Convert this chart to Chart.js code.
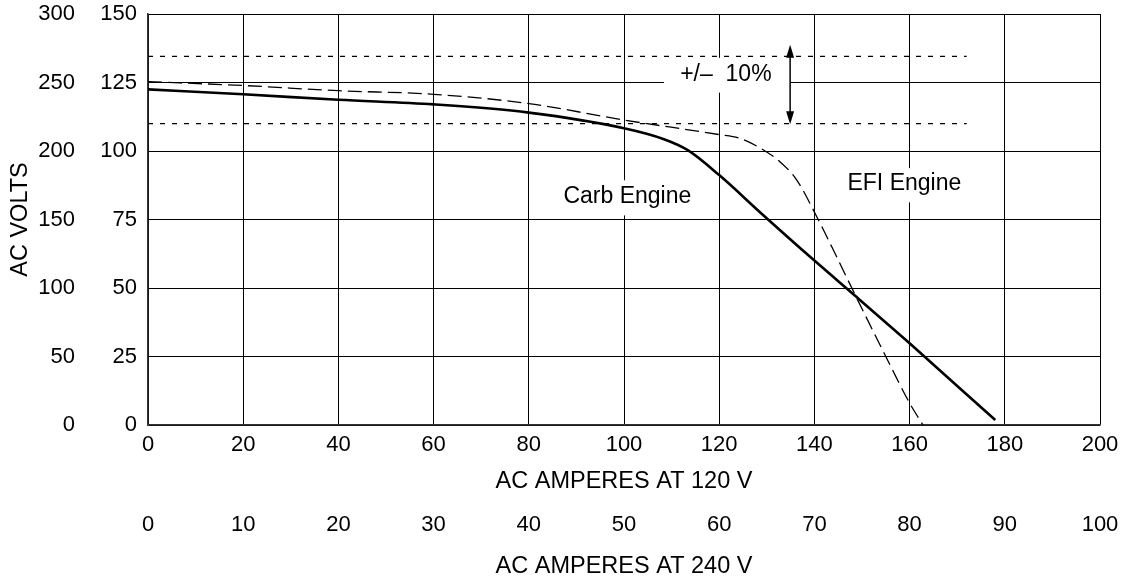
<!DOCTYPE html>
<html>
<head>
<meta charset="utf-8">
<script src="https://cdn.jsdelivr.net/npm/chart.js@4/dist/chart.umd.min.js"></script>
<style>
  html, body { margin: 0; padding: 0; background: #fff; }
  #wrap { width: 1129px; height: 579px; }
</style>
</head>
<body>
<div id="wrap"><canvas id="voltChart"></canvas></div>
<script>
// amps at 120 V vs AC volts
var carbAmps  = [0, 20, 40, 60, 80, 100, 108.4, 113.4, 120, 128.8, 140, 149, 160, 178];
var carbVolts = [122.5, 120.7, 118.7, 117, 114, 108.3, 104.3, 100.3, 91.2, 77.3, 60, 46.5, 29.8, 1.8];

var efiAmps  = [0, 20, 40, 60, 80, 100, 120, 124, 128.2, 132.8, 136.3, 140.5, 144.7, 148, 155, 160, 162.8];
var efiVolts = [125.3, 123.9, 122, 120.7, 117.3, 111.3, 106, 104.8, 101.5, 96, 89.4, 76, 61.3, 49.5, 25, 8, 0];

// +/- 10% band
var bandAmps  = [0, 172];
var bandHigh  = 134.5;
var bandLow   = 110;

var ampTicks120 = [0, 20, 40, 60, 80, 100, 120, 140, 160, 180, 200];
var ampTicks240 = [0, 10, 20, 30, 40, 50, 60, 70, 80, 90, 100];
var voltTicks   = [0, 25, 50, 75, 100, 125, 150];
var voltTicks2  = [0, 50, 100, 150, 200, 250, 300];

function pts(xs, ys) {
    return xs.map(function (v, i) { return { x: v, y: Array.isArray(ys) ? ys[i] : ys }; });
}

var FONT = 'Liberation Sans, Arial, Helvetica, sans-serif';

var notesPlugin = {
    id: 'notes',
    beforeDatasetsDraw: function (chart) {
        var ctx = chart.ctx, x = chart.scales.x, y = chart.scales.y;
        // white patches behind the labels (they break the grid)
        var boxes = [[108.4, 134.9, 134, 121.3], [87.2, 114.9, 89.3, 76.5], [144.6, 172.1, 93.75, 81.25]];
        ctx.save();
        ctx.fillStyle = '#fff';
        boxes.forEach(function (b) {
            var l = x.getPixelForValue(b[0]), r = x.getPixelForValue(b[1]);
            var t = y.getPixelForValue(b[2]), bt = y.getPixelForValue(b[3]);
            ctx.fillRect(l, t, r - l, bt - t);
        });
        ctx.fillStyle = '#000';
        ctx.font = '23px ' + FONT;
        ctx.textAlign = 'center';
        ctx.textBaseline = 'middle';
        ctx.fillText('+/\u2013  10%', x.getPixelForValue(121.4), y.getPixelForValue(127.8));
        ctx.fillText('Carb Engine', x.getPixelForValue(100.7), y.getPixelForValue(83.5));
        ctx.fillText('EFI Engine', x.getPixelForValue(158.9), y.getPixelForValue(88.2));
        ctx.restore();
    },
    afterDatasetsDraw: function (chart) {
        var ctx = chart.ctx, x = chart.scales.x, y = chart.scales.y;
        var ax = x.getPixelForValue(134.9);
        var top = y.getPixelForValue(138.8), bot = y.getPixelForValue(109.8);
        ctx.save();
        ctx.strokeStyle = '#000';
        ctx.fillStyle = '#000';
        ctx.lineWidth = 1.5;
        ctx.beginPath();
        ctx.moveTo(ax, top + 10);
        ctx.lineTo(ax, bot - 10);
        ctx.stroke();
        ctx.beginPath();
        ctx.moveTo(ax, top);
        ctx.lineTo(ax - 4, top + 13);
        ctx.lineTo(ax + 4, top + 13);
        ctx.closePath();
        ctx.fill();
        ctx.beginPath();
        ctx.moveTo(ax, bot);
        ctx.lineTo(ax - 4, bot - 13);
        ctx.lineTo(ax + 4, bot - 13);
        ctx.closePath();
        ctx.fill();
        ctx.restore();
    }
};

// fixed axis boxes so the plot sits where the sheet has it
function fixWidth(w) {
    return function (axis) { axis.width = w; axis.paddingTop = 0; axis.paddingBottom = 0; };
}
function fixHeight(h) {
    return function (axis) { axis.height = h; axis.paddingLeft = 0; axis.paddingRight = 0; };
}

var ctx = document.getElementById('voltChart').getContext('2d');
new Chart(ctx, {
    type: 'line',
    data: {
        datasets: [{
            label: 'Carb Engine',
            data: pts(carbAmps, carbVolts),
            borderColor: '#000',
            borderWidth: 2.6,
            cubicInterpolationMode: 'monotone',
            pointRadius: 0,
            fill: false
        }, {
            label: 'EFI Engine',
            data: pts(efiAmps, efiVolts),
            borderColor: '#000',
            borderWidth: 1.3,
            borderDash: [14, 6],
            cubicInterpolationMode: 'monotone',
            pointRadius: 0,
            fill: false
        }, {
            label: '+10%',
            data: pts(bandAmps, bandHigh),
            borderColor: '#000',
            borderWidth: 1.2,
            borderDash: [5, 7],
            pointRadius: 0,
            fill: false
        }, {
            label: '-10%',
            data: pts(bandAmps, bandLow),
            borderColor: '#000',
            borderWidth: 1.2,
            borderDash: [5, 7],
            pointRadius: 0,
            fill: false
        }]
    },
    options: {
        responsive: true,
        maintainAspectRatio: false,
        animation: false,
        layout: { padding: { top: 14, right: 29, left: 0, bottom: 0 } },
        plugins: { legend: { display: false }, tooltip: { enabled: false } },
        scales: {
            x: {
                type: 'linear',
                position: 'bottom',
                weight: 0,
                min: 0, max: 200,
                afterBuildTicks: function (axis) { axis.ticks = ampTicks120.map(function (v) { return { value: v }; }); },
                afterFit: fixHeight(79),
                grid: { color: '#000', lineWidth: 1, drawTicks: false },
                border: { color: '#333', width: 1.5 },
                ticks: { autoSkip: false, maxRotation: 0, padding: 7, color: '#000', font: { family: FONT, size: 22 } },
                title: { display: true, text: 'AC AMPERES AT 120 V', color: '#000', padding: { top: 0, bottom: 8 }, font: { family: FONT, size: 23.5 } }
            },
            x2: {
                type: 'linear',
                position: 'bottom',
                weight: 1,
                min: 0, max: 100,
                afterBuildTicks: function (axis) { axis.ticks = ampTicks240.map(function (v) { return { value: v }; }); },
                afterFit: fixHeight(75),
                grid: { display: false, drawTicks: false },
                border: { display: false },
                ticks: { autoSkip: false, maxRotation: 0, padding: 8, color: '#000', font: { family: FONT, size: 22 } },
                title: { display: true, text: 'AC AMPERES AT 240 V', color: '#000', padding: { top: 0, bottom: -2 }, font: { family: FONT, size: 23.5 } }
            },
            y: {
                type: 'linear',
                position: 'left',
                weight: 0,
                min: 0, max: 150,
                afterBuildTicks: function (axis) { axis.ticks = voltTicks.map(function (v) { return { value: v }; }); },
                afterFit: fixWidth(62),
                grid: { color: '#000', lineWidth: 1, drawTicks: false },
                border: { color: '#333', width: 1.5 },
                ticks: { autoSkip: false, padding: 11, color: '#000', font: { family: FONT, size: 22 } }
            },
            y2: {
                type: 'linear',
                position: 'left',
                weight: 1,
                min: 0, max: 300,
                afterBuildTicks: function (axis) { axis.ticks = voltTicks2.map(function (v) { return { value: v }; }); },
                afterFit: fixWidth(86),
                grid: { display: false, drawTicks: false },
                border: { display: false },
                ticks: { autoSkip: false, padding: 11, color: '#000', font: { family: FONT, size: 22 } },
                title: { display: true, text: 'AC VOLTS', color: '#000', padding: { top: 6, bottom: 0 }, font: { family: FONT, size: 23.5 } }
            }
        }
    },
    plugins: [notesPlugin]
});
</script>
</body>
</html>
